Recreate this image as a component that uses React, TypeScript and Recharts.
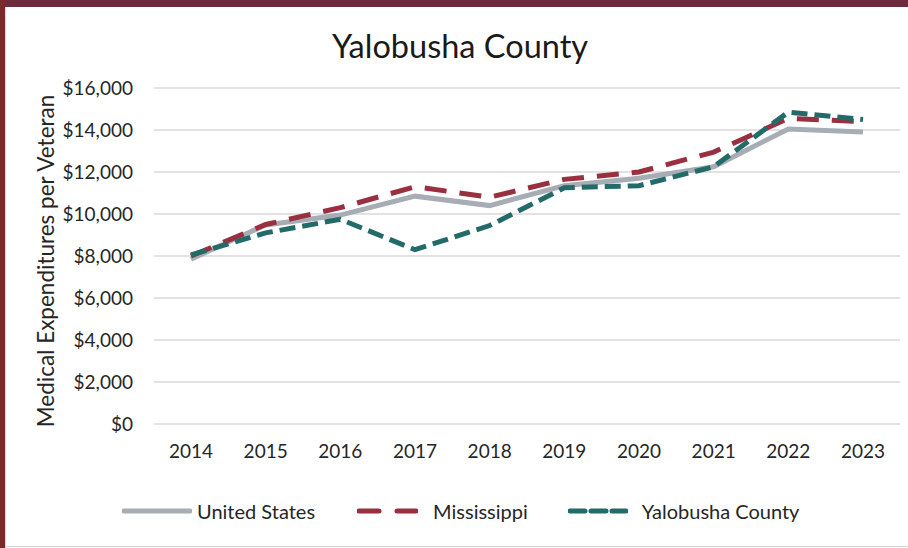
import { CartesianGrid, Line, LineChart, XAxis, YAxis } from "recharts";

const years = ["2014", "2015", "2016", "2017", "2018", "2019", "2020", "2021", "2022", "2023"];
const unitedStates = [7850, 9480, 9950, 10850, 10400, 11350, 11700, 12250, 14050, 13900];
const mississippi = [8000, 9500, 10300, 11300, 10800, 11650, 12000, 12950, 14550, 14400];
const yalobusha = [8050, 9100, 9750, 8300, 9450, 11250, 11350, 12250, 14850, 14500];
const yTicks = [0, 2000, 4000, 6000, 8000, 10000, 12000, 14000, 16000];

const data = years.map((year, i) => ({
  year,
  us: unitedStates[i],
  ms: mississippi[i],
  yc: yalobusha[i],
}));

const FONT = "Lato, 'Open Sans', sans-serif";
const TEXT = "#262626";

const series = [
  { key: "us", name: "United States", color: "#a7adb4", dash: undefined, iconDash: undefined, iconW: 70, gap: 5, after: 42 },
  { key: "ms", name: "Mississippi", color: "#9a2f40", dash: "22 13", iconDash: "20 18", iconW: 61, gap: 15, after: 40 },
  { key: "yc", name: "Yalobusha County", color: "#236b69", dash: "16 7", iconDash: "15 6", iconW: 60, gap: 14, after: 0 },
];

const money = (v: number) => "$" + v.toLocaleString("en-US");

export default function App() {
  return (
    <div style={{ position: "absolute", left: 0, top: 0, width: 908, height: 548, background: "#fff", overflow: "hidden" }}>
      <div style={{ position: "absolute", left: 0, top: 0, width: 908, height: 7, background: "#6e2a3c" }} />
      <div style={{ position: "absolute", left: 0, top: 0, width: 5, height: 548, background: "#7a2a2c" }} />
      <div style={{ position: "absolute", left: 5, top: 7, width: 1, height: 541, background: "#d8d8d8" }} />
      <div style={{ position: "absolute", left: 5, top: 546, width: 903, height: 1, background: "#d8d8d8" }} />
      <div
        style={{
          position: "absolute",
          top: 26,
          left: 0,
          width: 920,
          textAlign: "center",
          fontFamily: FONT,
          fontSize: 32.5,
          color: "#1a1a1a",
        }}
      >
        Yalobusha County
      </div>
      <svg style={{ position: "absolute", left: 0, top: 0 }} width={908} height={548}>
        <text
          transform="translate(45 261) rotate(-90)"
          textAnchor="middle"
          dominantBaseline="central"
          fontFamily={FONT}
          fontSize={22.5}
          fill={TEXT}
        >
          Medical Expenditures per Veteran
        </text>
      </svg>
      <div style={{ position: "absolute", left: 0, top: 0 }}>
        <LineChart width={908} height={548} data={data} margin={{ top: 88, right: 8, bottom: 84, left: 20 }}>
          <CartesianGrid vertical={false} stroke="#d9d9d9" strokeWidth={1.5} />
          <XAxis
            dataKey="year"
            axisLine={false}
            tickLine={false}
            tickSize={0}
            tickMargin={21}
            height={40}
            padding={{ left: 37, right: 37 }}
            tick={{ fontFamily: FONT, fontSize: 19, fill: TEXT }}
          />
          <YAxis
            width={134}
            domain={[0, 16000]}
            ticks={yTicks}
            interval={0}
            axisLine={false}
            tickLine={false}
            tickSize={0}
            tickMargin={21}
            tickFormatter={money}
            tick={{ fontFamily: FONT, fontSize: 19, fill: TEXT }}
          />
          {series.map((s) => (
            <Line
              key={s.key}
              dataKey={s.key}
              name={s.name}
              stroke={s.color}
              strokeWidth={5}
              strokeDasharray={s.dash}
              dot={false}
              activeDot={false}
              isAnimationActive={false}
            />
          ))}
        </LineChart>
      </div>
      <div
        style={{
          position: "absolute",
          top: 499,
          left: 122,
          display: "flex",
          alignItems: "center",
          fontFamily: FONT,
          fontSize: 20,
          color: TEXT,
          whiteSpace: "nowrap",
        }}
      >
        {series.map((s) => (
          <div key={s.key} style={{ display: "flex", alignItems: "center", marginRight: s.after }}>
            <svg width={s.iconW} height={10} style={{ marginRight: s.gap }}>
              <line
                x1={2}
                y1={5}
                x2={s.iconW - 2}
                y2={5}
                stroke={s.color}
                strokeWidth={5}
                strokeLinecap="round"
                strokeDasharray={s.iconDash}
              />
            </svg>
            <span>{s.name}</span>
          </div>
        ))}
      </div>
    </div>
  );
}
